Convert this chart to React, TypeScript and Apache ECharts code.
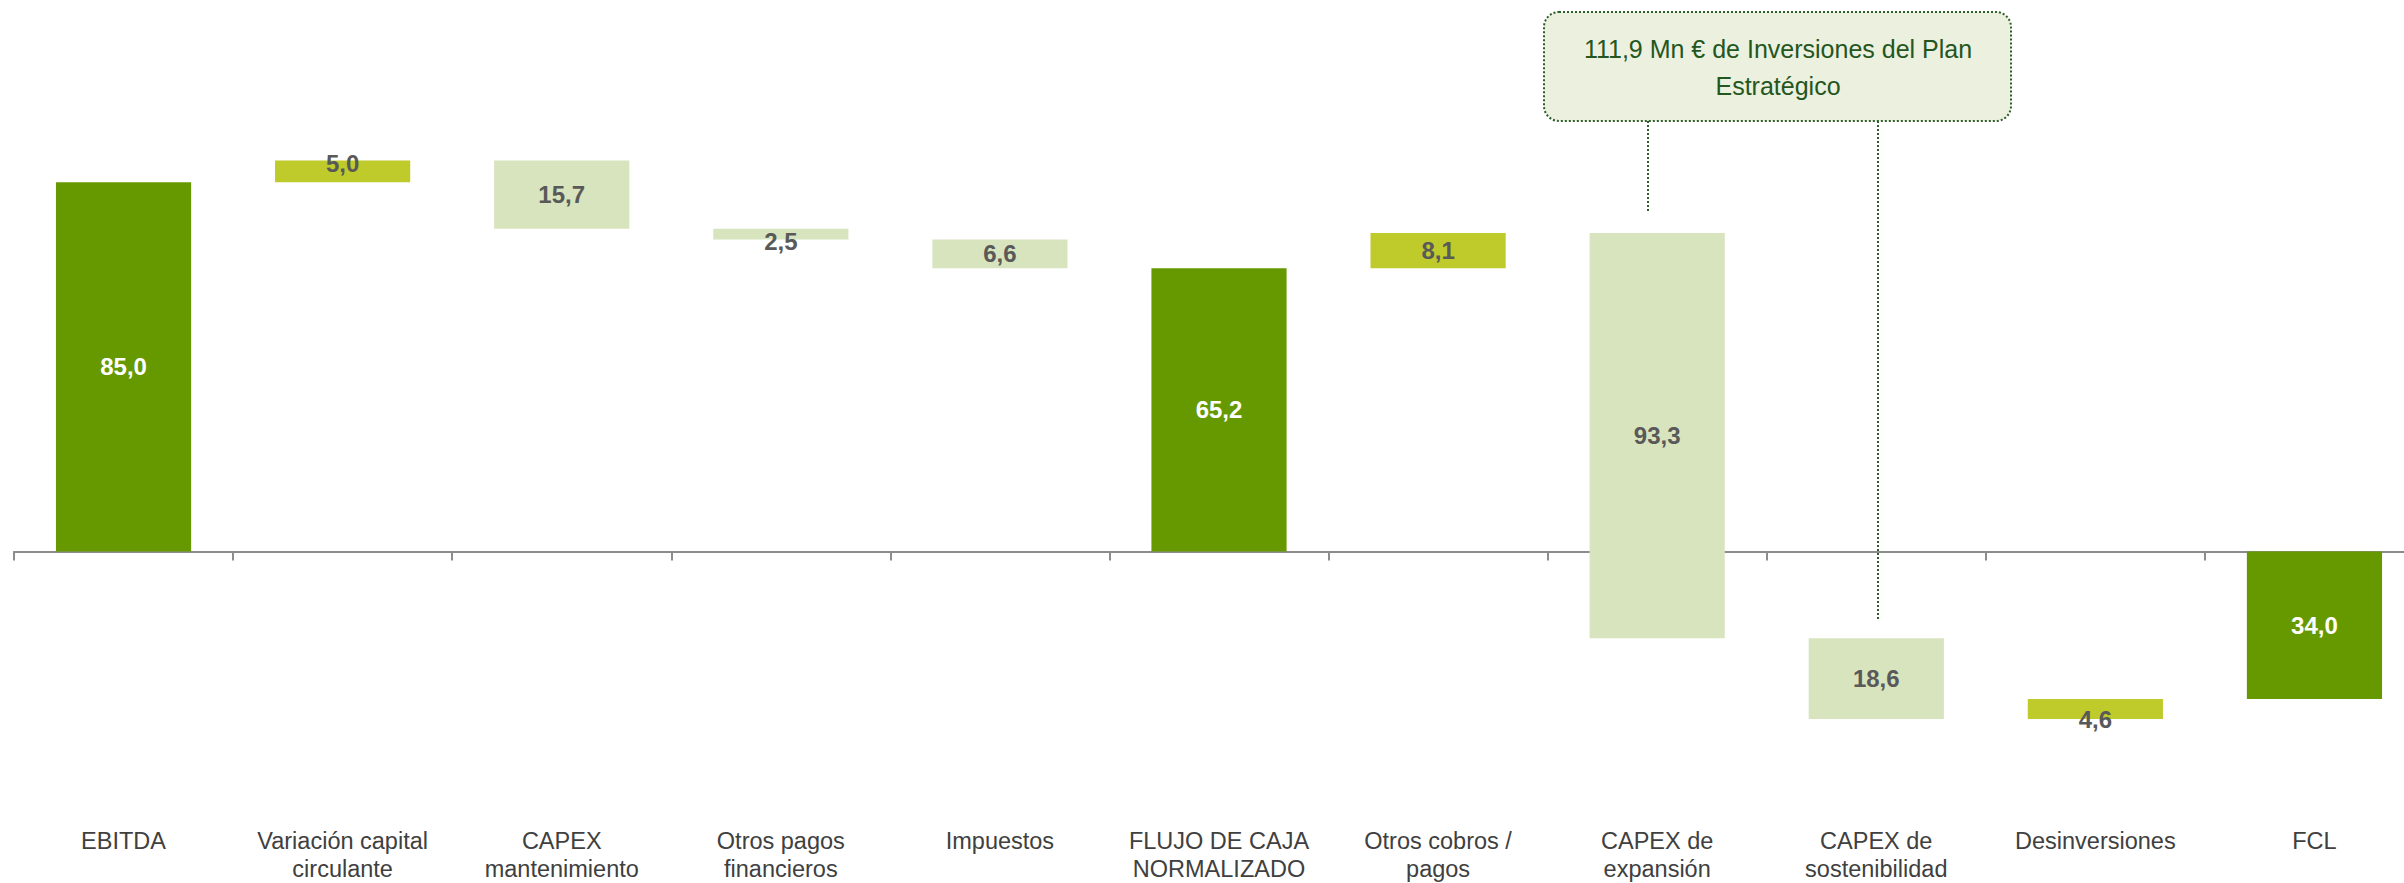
import React, { useEffect, useRef } from "react";
import * as echarts from "echarts";

const categories = [
  "EBITDA",
  "Variación capital\ncirculante",
  "CAPEX\nmantenimiento",
  "Otros pagos\nfinancieros",
  "Impuestos",
  "FLUJO DE CAJA\nNORMALIZADO",
  "Otros cobros /\npagos",
  "CAPEX de\nexpansión",
  "CAPEX de\nsostenibilidad",
  "Desinversiones",
  "FCL",
];
const values = [85.0, 5.0, -15.7, -2.5, -6.6, 65.2, 8.1, -93.3, -18.6, 4.6, -34.0];
const isTotal = [true, false, false, false, false, true, false, false, false, false, true];
const annotationText = "111,9 Mn € de Inversiones del Plan\nEstratégico";

const FONT = "'Liberation Sans', Arial, sans-serif";
const C_TOTAL = "#669900";
const C_POS = "#BFCA2B";
const C_NEG = "#D8E4BE";
const labelOffsetY = [0, -8, 0, 7, 0, 0, 0, 0, 0, 10, 0];

export default function App() {
  const ref = useRef<HTMLDivElement>(null);
  useEffect(() => {
    if (!ref.current) return;
    const chart = echarts.init(ref.current, undefined, { renderer: "svg" });

    let running = 0;
    const rows = values.map((v, i) => {
      let lo: number, hi: number;
      if (isTotal[i]) {
        lo = 0;
        hi = v;
        running = v;
      } else {
        lo = running;
        hi = running + v;
        running = hi;
      }
      return [i, Math.min(lo, hi), Math.max(lo, hi), v];
    });

    chart.setOption({
      animation: false,
      grid: { left: 14, right: 0, top: 117, bottom: 70 },
      xAxis: [
        {
          type: "category",
          data: categories,
          position: "bottom",
          axisLine: { onZero: true, lineStyle: { color: "#8c8c8c", width: 2 } },
          axisTick: { show: true, length: 9, lineStyle: { color: "#8c8c8c", width: 2 } },
          axisLabel: { show: false },
          splitLine: { show: false },
        },
        {
          type: "category",
          data: categories,
          position: "bottom",
          axisLine: { show: false, onZero: false },
          axisTick: { show: false },
          axisLabel: {
            interval: 0,
            margin: 15,
            fontSize: 23.5,
            lineHeight: 28,
            color: "#404040",
            fontFamily: FONT,
          },
        },
      ],
      yAxis: {
        type: "value",
        min: -60,
        max: 100,
        show: false,
        splitLine: { show: false },
      },
      series: [
        {
          type: "custom",
          xAxisIndex: 0,
          data: rows,
          encode: { x: 0, y: [1, 2] },
          renderItem: (params: any, api: any) => {
            const i = api.value(0);
            const lo = api.value(1);
            const hi = api.value(2);
            const v = api.value(3);
            const top = api.coord([i, hi]);
            const bot = api.coord([i, lo]);
            const w = api.size([1, 0])[0] * 0.617;
            const color = isTotal[i] ? C_TOTAL : v >= 0 ? C_POS : C_NEG;
            const cy = (top[1] + bot[1]) / 2 + labelOffsetY[i];
            return {
              type: "group",
              children: [
                {
                  type: "rect",
                  shape: { x: top[0] - w / 2, y: top[1], width: w, height: bot[1] - top[1] },
                  style: { fill: color },
                },
                {
                  type: "text",
                  x: top[0],
                  y: cy,
                  style: {
                    text: Math.abs(v).toFixed(1).replace(".", ","),
                    fill: isTotal[i] ? "#ffffff" : "#595959",
                    font: `bold 24px ${FONT}`,
                    align: "center",
                    verticalAlign: "middle",
                  },
                },
              ],
            };
          },
        },
      ],
      graphic: [
        {
          type: "rect",
          shape: { x: 1544, y: 12, width: 467, height: 109, r: 15 },
          style: { fill: "#EBF0DF", stroke: "#2E5E2A", lineWidth: 2, lineDash: [2, 2] },
        },
        {
          type: "text",
          x: 1778,
          y: 67,
          style: {
            text: annotationText,
            font: `25px ${FONT}`,
            fill: "#24561E",
            align: "center",
            verticalAlign: "middle",
            lineHeight: 37,
          },
        },
        {
          type: "line",
          shape: { x1: 1648, y1: 121, x2: 1648, y2: 213 },
          style: { stroke: "#2E5E2A", lineWidth: 2, lineDash: [2, 2] },
        },
        {
          type: "line",
          shape: { x1: 1878, y1: 121, x2: 1878, y2: 620 },
          style: { stroke: "#2E5E2A", lineWidth: 2, lineDash: [2, 2] },
        },
      ],
    });
    return () => chart.dispose();
  }, []);
  return (
    <div
      ref={ref}
      style={{ position: "fixed", left: 0, top: 0, width: 2424, height: 883, background: "#fff" }}
    />
  );
}
